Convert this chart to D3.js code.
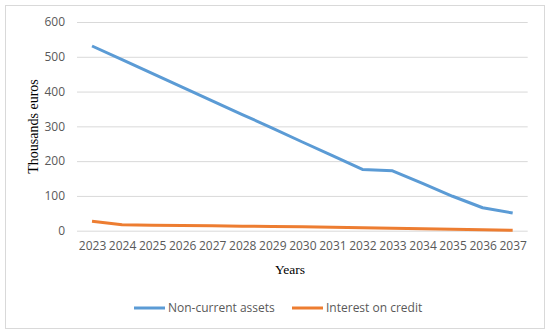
<!DOCTYPE html>
<html><head><meta charset="utf-8">
<script src="https://cdn.jsdelivr.net/npm/d3@7"></script>
<style>body{margin:0;background:#fff}svg{display:block}</style>
</head><body>
<svg id="c" width="550" height="336"></svg>
<script>
const years = ["2023","2024","2025","2026","2027","2028","2029","2030","2031","2032","2033","2034","2035","2036","2037"];
const nonCurrentAssets = [531, 492, 452, 413, 373, 334, 295, 255, 216, 176, 172, 136, 99, 66, 51];
const interestOnCredit = [27, 17, 16, 15, 14, 13, 12, 11, 10, 8.5, 7, 5.5, 4, 2.5, 1];
const yTicks = [0, 100, 200, 300, 400, 500, 600];
const seriesNames = ["Non-current assets", "Interest on credit"];
const colors = ["#5B9BD5", "#ED7D31"];

const svg = d3.select("#c");
svg.append("rect").attr("x",5.5).attr("y",5.5).attr("width",539).attr("height",323)
  .attr("fill","#fff").attr("stroke","#D9D9D9");

const L=77, R=527.7, T=22, B=230.7;
const x = d3.scalePoint().domain(years).range([L,R]).padding(0.5);
const y = d3.scaleLinear().domain([0,600]).range([B,T]);
const font = "'Open Sans', sans-serif";

const gy = svg.append("g").attr("transform",`translate(${L},0)`)
  .call(d3.axisLeft(y).tickValues(yTicks).tickSize(-(R-L)).tickPadding(12));
gy.select(".domain").remove();
gy.selectAll("line").attr("stroke","#D9D9D9");
gy.selectAll("text").attr("fill","#595959").style("font-family",font).style("font-size","12px");

const gx = svg.append("g").attr("transform",`translate(0,${B})`)
  .call(d3.axisBottom(x).tickSize(0).tickPadding(11));
gx.select(".domain").remove();
gx.selectAll("text").attr("fill","#595959").style("font-family",font).style("font-size","12px");

const line = d3.line().x((d,i)=>x(years[i])).y(d=>y(d));
[nonCurrentAssets, interestOnCredit].forEach((s,k)=>{
  svg.append("path").datum(s).attr("d",line).attr("fill","none")
    .attr("stroke",colors[k]).attr("stroke-width",3).attr("stroke-linejoin","round");
});

svg.append("text").attr("x",290).attr("y",274).attr("text-anchor","middle")
  .style("font-family","'Liberation Serif', serif").style("font-size","13.5px").attr("fill","#000").text("Years");
svg.append("text").attr("transform","translate(37.5,126.5) rotate(-90)").attr("text-anchor","middle")
  .style("font-family","'Liberation Serif', serif").style("font-size","14px").attr("fill","#000").text("Thousands euros");

const legX = [134, 292];
seriesNames.forEach((n,k)=>{
  const g = svg.append("g").attr("transform",`translate(${legX[k]},308)`);
  g.append("line").attr("x1",0).attr("x2",31).attr("stroke",colors[k]).attr("stroke-width",3);
  g.append("text").attr("x",34).attr("dy","0.35em").attr("fill","#595959")
    .style("font-family",font).style("font-size","12px").text(n);
});
</script>
</body></html>
